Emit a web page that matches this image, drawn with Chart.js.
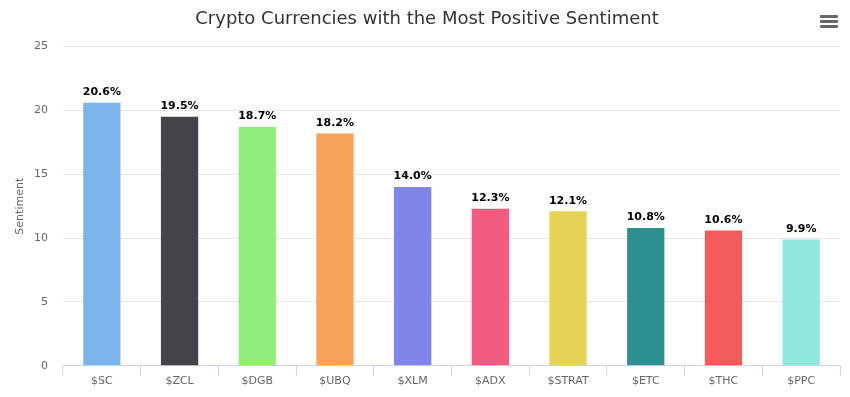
<!DOCTYPE html>
<html><head><meta charset="utf-8">
<script src="https://cdn.jsdelivr.net/npm/chart.js@4/dist/chart.umd.min.js"></script>
<style>
html,body{margin:0;padding:0;background:#fff;}
#wrap{position:relative;width:850px;height:397px;}
#menu{position:absolute;left:820px;top:15px;width:18px;height:13px;}
#menu span{position:absolute;left:0;width:18px;height:3px;background:#666;border-radius:1px;}
</style></head>
<body>
<div id="wrap"><canvas id="c" width="850" height="397"></canvas>
<div id="menu"><span style="top:0"></span><span style="top:5px"></span><span style="top:10px"></span></div></div>
<script>
const categories = ["$SC","$ZCL","$DGB","$UBQ","$XLM","$ADX","$STRAT","$ETC","$THC","$PPC"];
const sentiment = [20.6,19.5,18.7,18.2,14.0,12.3,12.1,10.8,10.6,9.9];
const barColors = ["#7cb5ec","#434348","#90ed7d","#f7a35c","#8085e9","#f15c80","#e4d354","#2b908f","#f45b5b","#91e8e1"];
const yTicks = [0,5,10,15,20,25];
const FONT = "'DejaVu Sans', sans-serif";

const labelPlugin = {
  id:'barLabels',
  afterDatasetsDraw(chart){
    const ctx = chart.ctx;
    const meta = chart.getDatasetMeta(0);
    ctx.save();
    ctx.font = "bold 11px " + FONT;
    ctx.fillStyle = "#000";
    ctx.textAlign = "center";
    ctx.textBaseline = "bottom";
    meta.data.forEach((el,i)=>{
      ctx.fillText(sentiment[i].toFixed(1)+"%", el.x, el.y - 5);
    });
    ctx.restore();
  }
};

new Chart(document.getElementById('c'), {
  type:'bar',
  data:{labels:categories, datasets:[{data:sentiment, backgroundColor:barColors, borderWidth:0, barPercentage:0.48, categoryPercentage:1}]},
  options:{
    responsive:false, animation:false, devicePixelRatio:1,
    layout:{padding:{left:14,right:10,top:0,bottom:10}},
    plugins:{
      legend:{display:false}, tooltip:{enabled:false},
      title:{display:true, text:"Crypto Currencies with the Most Positive Sentiment", color:"#333333",
        font:{family:FONT, size:18, weight:'normal'}, padding:{top:9,bottom:16}}
    },
    scales:{
      x:{
        grid:{display:true, drawOnChartArea:false, drawTicks:true, tickLength:10, color:"#ccd6eb", offset:true},
        border:{display:true, color:"#ccd6eb"},
        ticks:{color:"#666666", font:{family:FONT,size:11}, padding:-1, maxRotation:0}
      },
      y:{
        min:0, max:25,
        afterBuildTicks(s){ s.ticks = yTicks.map(v=>({value:v})); },
        afterFit(s){ s.width = 49; },
        grid:{color:"#e6e6e6", drawTicks:false},
        border:{display:false},
        ticks:{color:"#666666", font:{family:FONT,size:11}, padding:15},
        title:{display:true, text:"Sentiment", color:"#666666", font:{family:FONT,size:11}, padding:{top:0,bottom:0}}
      }
    }
  },
  plugins:[labelPlugin]
});
</script>
</body></html>
